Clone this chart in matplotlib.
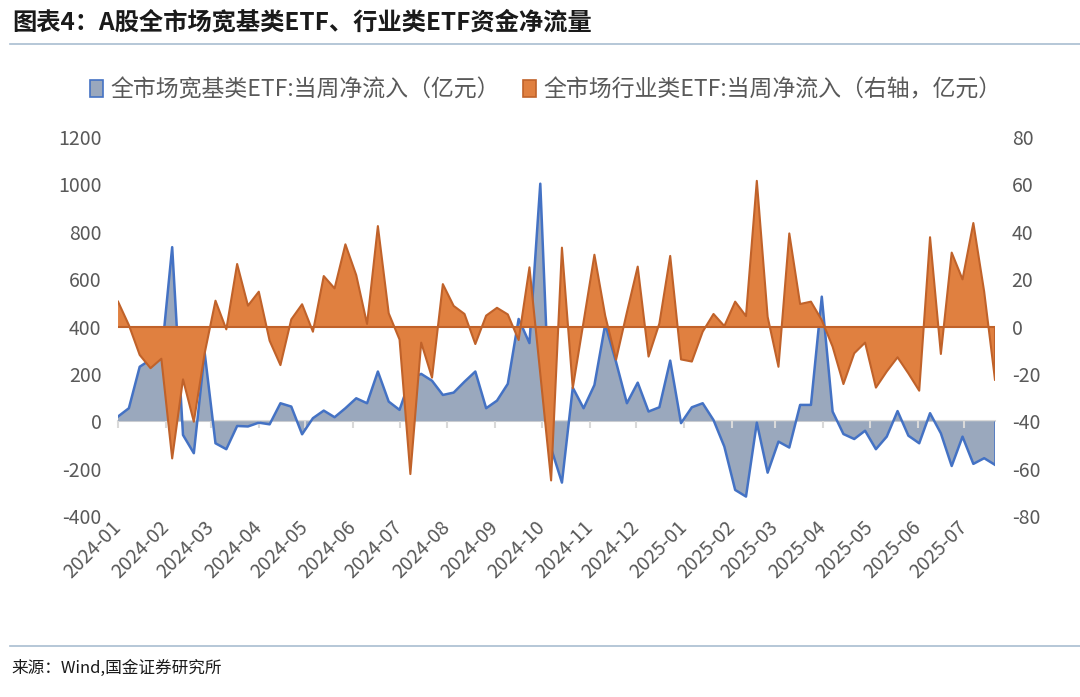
import matplotlib.pyplot as plt
import matplotlib.dates as mdates
from matplotlib.lines import Line2D
from matplotlib.patches import Patch
import pandas as pd

# * fonts: CJK first, DejaVu as fallback
plt.rcParams['font.family'] = ['Noto Sans CJK SC', 'DejaVu Sans']

# * weekly data (Fridays)
weeks = pd.date_range('2024-01-05', periods=82, freq='7D')

# full-market broad-based ETF weekly net inflow (100m CNY, left axis)
broad = [20, 55, 230, 260, 270, 735, -58, -135, 290, -93,
         -118, -20, -22, -6, -13, 76, 62, -55, 13, 45,
         17, 55, 97, 76, 210, 83, 48, 180, 200, 171,
         111, 121, 167, 210, 55, 87, 158, 432, 330, 1003,
         -114, -259, 142, 55, 153, 410, 250, 76, 163, 41,
         59, 256, -8, 59, 76, 5, -107, -290, -318, -6,
         -217, -86, -111, 69, 69, 526, 41, -54, -75, -40,
         -118, -65, 43, -61, -93, 34, -51, -189, -65, -180,
         -156, -184]

# full-market sector ETF weekly net inflow (100m CNY, right axis)
sector = [10.5, 0.6, -12, -17.6, -13.6, -55.7, -22.3, -40.2, -11.3, 10.9,
          -1.2, 26.4, 8.8, 14.7, -6, -16.3, 3, 9.4, -2.2, 21.3,
          16.1, 34.7, 21.7, 1.1, 42.4, 5.6, -5.5, -62.3, -6.8, -21.6,
          17.9, 8.7, 5.3, -7.4, 4.6, 7.9, 5.1, -5.7, 25, -20,
          -65, 33.3, -26, 2, 30.3, 4.5, -14, 6, 25.3, -12.7,
          1.3, 29.8, -13.9, -14.8, -2.2, 5.3, 0.2, 10.5, 4.4, 61.5,
          4.1, -17, 39.3, 9.5, 10.5, 2.7, -8.5, -24.3, -11.3, -6.8,
          -25.8, -19, -13, -19.8, -27.1, 37.7, -11.6, 31.2, 19.9, 43.7,
          14.7, -22.5]

month_ticks = pd.date_range('2024-01-05', '2025-07-05', freq=pd.DateOffset(months=1))
month_labels = [d.strftime('%Y-%m') for d in month_ticks]

left_ticks = list(range(-400, 1201, 200))
right_ticks = list(range(-80, 81, 20))

title = '图表4：A股全市场宽基类ETF、行业类ETF资金净流量'
label_broad = '全市场宽基类ETF:当周净流入（亿元）'
label_sector = '全市场行业类ETF:当周净流入（右轴，亿元）'
source = '来源：Wind,国金证券研究所'

# * colours
blue_fill = '#9AA8BD'
blue_line = '#4472C4'
orange_fill = '#E08040'
orange_line = '#C0622A'
axis_grey = '#D9D9D9'
text_grey = '#595959'
rule_color = '#A9BDD1'

x = mdates.date2num(weeks)
x_ticks = mdates.date2num(month_ticks)

fig = plt.figure(figsize=(10.8, 6.97), dpi=100)
ax = fig.add_axes([0.1093, 0.2597, 0.812, 0.5437])
ax2 = ax.twinx()

# ! broad-based ETF (left axis)
ax.fill_between(x, broad, 0, facecolor=blue_fill, linewidth=0, zorder=1)
ax.plot(x, broad, color=blue_line, linewidth=1.8, zorder=2)
ax.vlines(x[-1], broad[-1], 0, color=blue_line, linewidth=1.8, zorder=2)

# ! sector ETF (right axis), drawn above the blue area
ax2.fill_between(x, sector, 0, facecolor=orange_fill, linewidth=0, zorder=1)
ax2.plot(x, sector, color=orange_line, linewidth=1.5, zorder=2)
ax2.axhline(0, color=orange_line, linewidth=1.5, zorder=2)
ax2.vlines(x[-1], sector[-1], 0, color=orange_line, linewidth=1.5, zorder=2)

ax.set_xlim(x[0], x[-1])
ax.set_ylim(-400, 1200)
ax2.set_ylim(-80, 80)
ax.set_yticks(left_ticks, [str(v) for v in left_ticks])
ax2.set_yticks(right_ticks, [str(v) for v in right_ticks])

# category axis line sits at zero of the left axis
for s in ['top', 'right', 'left']:
    ax.spines[s].set_visible(False)
for s in ['top', 'right', 'left', 'bottom']:
    ax2.spines[s].set_visible(False)
ax.spines['bottom'].set_position(('data', 0))
ax.spines['bottom'].set_color(axis_grey)
ax.spines['bottom'].set_linewidth(1.5)
ax.spines['bottom'].set_zorder(0.5)
ax.set_xticks(x_ticks)
ax.tick_params(axis='x', direction='out', length=5, width=1.5,
               color=axis_grey, labelbottom=False)
ax.tick_params(axis='y', length=0, labelsize=14, labelcolor=text_grey, pad=12)
ax2.tick_params(axis='y', length=0, labelsize=14, labelcolor=text_grey, pad=12)

# date labels along the bottom of the plot area
sec = ax.secondary_xaxis('bottom')
sec.set_xticks(x_ticks, month_labels)
sec.tick_params(length=0, labelsize=14, labelcolor=text_grey, pad=6)
for lbl in sec.get_xticklabels():
    lbl.set_rotation(45)
    lbl.set_ha('right')
    lbl.set_va('center')
    lbl.set_rotation_mode('anchor')
sec.spines['bottom'].set_visible(False)

# legend
handles = [Patch(facecolor=blue_fill, edgecolor=blue_line, linewidth=1.2),
           Patch(facecolor=orange_fill, edgecolor=orange_line, linewidth=1.2)]
fig.legend(handles, [label_broad, label_sector], loc='center',
           bbox_to_anchor=(0.505, 0.871), ncol=2, frameon=False,
           fontsize=16.5, labelcolor=text_grey, handlelength=0.6,
           handleheight=0.8, handletextpad=0.3, columnspacing=1.0)

# title, rules and source
fig.text(0.011, 0.968, title, fontsize=17.5, fontweight='bold',
         fontstyle='italic', color='#1A1A1A', va='center', ha='left')
fig.add_artist(Line2D([0.009, 1.0], [0.937, 0.937], color=rule_color, linewidth=1.2))
fig.add_artist(Line2D([0.009, 1.0], [0.0732, 0.0732], color=rule_color, linewidth=1.2))
fig.text(0.011, 0.041, source, fontsize=12, color='#1A1A1A', va='center', ha='left')

plt.savefig('out.png', dpi=100)
